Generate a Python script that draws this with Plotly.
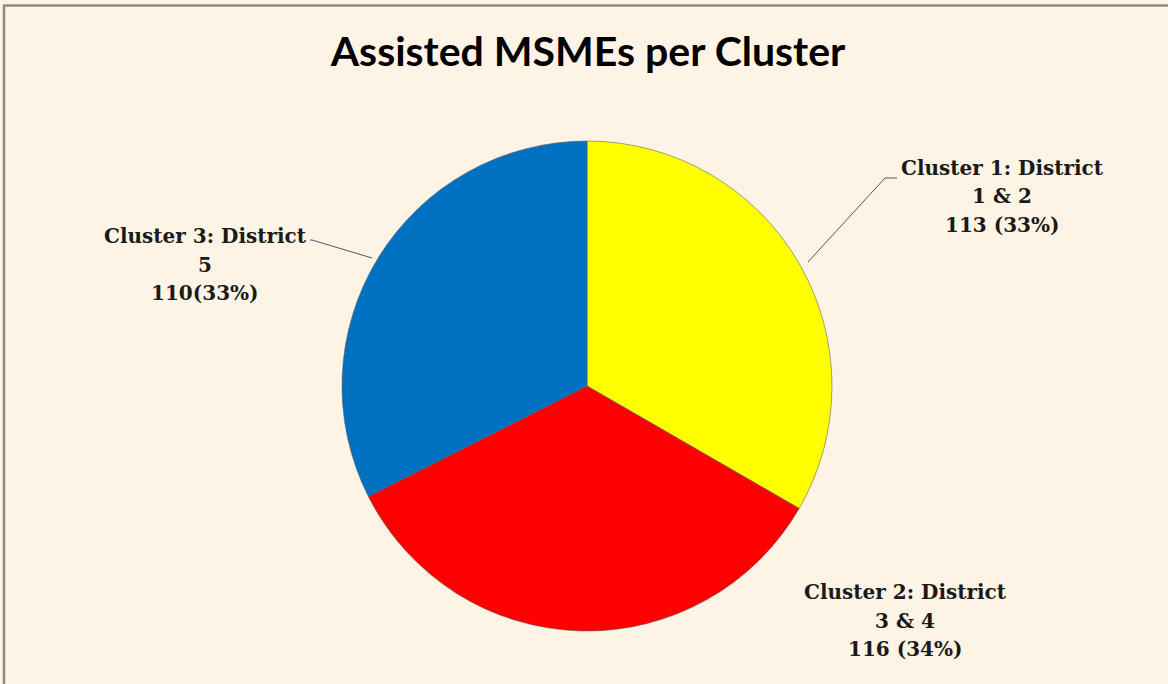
import plotly.graph_objects as go

clusters = ["Cluster 1: District", "Cluster 2: District", "Cluster 3: District"]
districts = ["1 & 2", "3 & 4", "5"]
values = [113, 116, 110]
pct_text = ["113 (33%)", "116 (34%)", "110(33%)"]
colors = ["#FFFF00", "#FF0000", "#0070C0"]

W, H = 1168, 684
cx, cy, r = 587, 386, 245
BG = "#FEF4E5"

def px(x):
    return x / W

def py(y):
    return 1 - y / H

fig = go.Figure()
fig.add_trace(go.Pie(
    labels=clusters,
    values=values,
    sort=False,
    direction="clockwise",
    rotation=0,
    marker=dict(colors=colors, line=dict(color="rgba(90,90,90,0.55)", width=1)),
    textinfo="none",
    hoverinfo="label+value+percent",
    showlegend=False,
    domain=dict(x=[px(cx - r), px(cx + r)], y=[py(cy + r), py(cy - r)]),
))

# centre x and first-line y of each label block
label_pos = [(1002, 168), (905, 592), (205, 236)]
line_gap = 28.5
for i, (lx, ly) in enumerate(label_pos):
    for j, txt in enumerate([clusters[i], districts[i], pct_text[i]]):
        fig.add_annotation(
            x=px(lx), y=py(ly + j * line_gap), xref="paper", yref="paper",
            text=f"<b>{txt}</b>",
            showarrow=False, align="center", xanchor="center", yanchor="middle",
            font=dict(family="DejaVu Serif", size=20, color="#1a1a1a"),
        )

leaders = [
    [(808, 262), (885, 178), (897, 178)],
    [(372, 258), (312, 240), (310, 240)],
]
for pts in leaders:
    path = "M " + " L ".join(f"{px(x)},{py(y)}" for x, y in pts)
    fig.add_shape(type="path", path=path, xref="paper", yref="paper",
                  line=dict(color="#555555", width=1))

# frame: left and top edges only
fig.add_shape(type="line", xref="paper", yref="paper",
              x0=px(4), x1=px(4), y0=py(684), y1=py(5.5),
              line=dict(color="#8c8c8c", width=2.5))
fig.add_shape(type="line", xref="paper", yref="paper",
              x0=px(3), x1=px(1168), y0=py(5.5), y1=py(5.5),
              line=dict(color="#8c8c8c", width=2.5))

fig.update_layout(
    width=W, height=H,
    margin=dict(l=0, r=0, t=0, b=0),
    paper_bgcolor=BG,
    plot_bgcolor=BG,
    title=dict(text="<b>Assisted MSMEs per Cluster</b>", x=px(588), xanchor="center",
               y=py(52), yanchor="middle",
               font=dict(family="Lato", size=41, color="#000000")),
)

fig.write_html("out.html", config={"displayModeBar": False},
               post_script="document.body.style.margin='0';document.body.style.background='" + BG + "';")
